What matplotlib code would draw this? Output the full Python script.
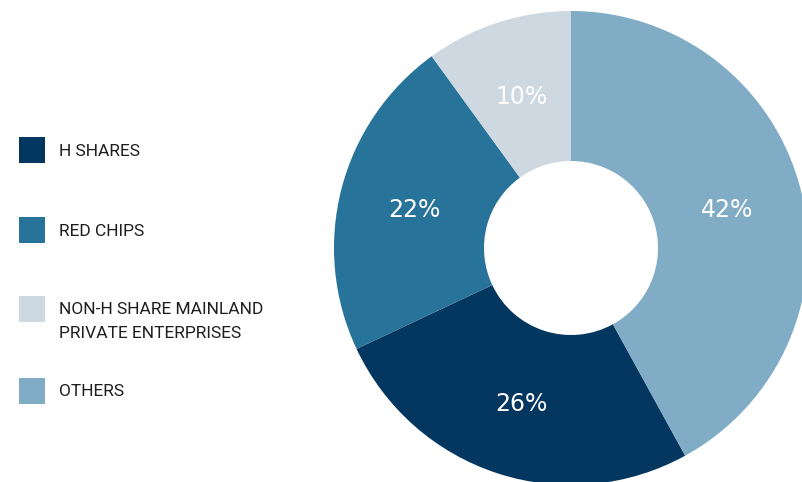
import matplotlib
matplotlib.use("Agg")
import matplotlib.pyplot as plt
from matplotlib.patches import Rectangle

# Share of listed companies by type
categories = ["H SHARES", "RED CHIPS", "NON-H SHARE MAINLAND\nPRIVATE ENTERPRISES", "OTHERS"]
shares = [26, 22, 10, 42]
colors = ["#04375f", "#27739a", "#cdd8e1", "#81acc6"]

W, H = 802, 482
fig = plt.figure(figsize=(W / 100, H / 100), dpi=100)

# donut: centre (571, 248) px, outer radius 237 px, hole radius 87 px
cx, cy, R, r = 571, 248, 237, 87
ax = fig.add_axes([(cx - R) / W, (H - cy - R) / H, 2 * R / W, 2 * R / H])
start = 90 - 360 * shares[-1] / sum(shares)
wedges, texts, autotexts = ax.pie(
    shares, colors=colors, startangle=start, counterclock=False,
    radius=1, wedgeprops=dict(width=(R - r) / R, linewidth=0),
    autopct=lambda p: f"{p:.0f}%", pctdistance=0.68,
)
for t in autotexts:
    t.set_color("white")
    t.set_fontsize(17)
    t.set_fontfamily("DejaVu Sans")
    t.set_va("center_baseline")
    t.set_path_effects([])
ax.set_xlim(-1, 1)
ax.set_ylim(-1, 1)
ax.set_aspect("auto")
ax.axis("off")

# legend drawn in pixel coordinates
lax = fig.add_axes([0, 0, 1, 1])
lax.set_xlim(0, W)
lax.set_ylim(H, 0)
lax.axis("off")
box_y = [150, 230, 309, 391]
for y, c, lab in zip(box_y, colors, categories):
    lax.add_patch(Rectangle((19, y - 13), 26, 26, color=c, lw=0))
    for i, line in enumerate(lab.split("\n")):
        lax.text(59, y + 1 + 23 * i, line, fontsize=12.5, color="#1e1e1e",
                 family=["Roboto", "DejaVu Sans"], va="center")

fig.savefig("out.png", dpi=100)
